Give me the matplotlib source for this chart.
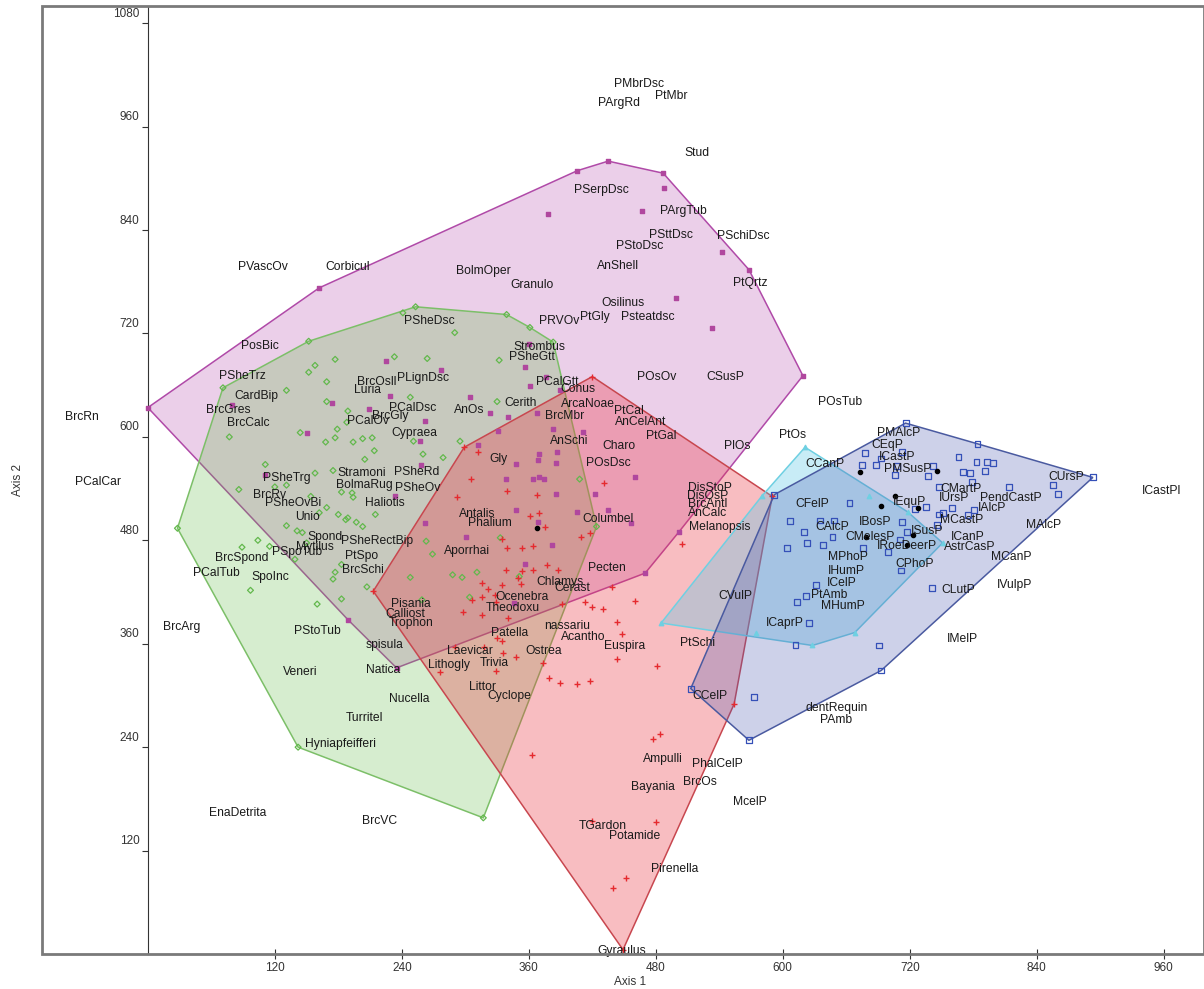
import matplotlib
matplotlib.use("Agg")
import matplotlib.pyplot as plt
from matplotlib.patches import Polygon, Rectangle
from matplotlib.transforms import ScaledTranslation

plt.rcParams['font.family'] = ['Liberation Sans', 'DejaVu Sans']

# ---------------- data (Axis 1, Axis 2) ----------------
magenta_x = [0, 80, 174, 150, 111, 189, 162, 378, 467, 406, 435, 487, 488, 543, 568, 499, 533, 619, 502, 470,
             235, 225, 277, 356, 360, 376, 361, 389, 229, 304, 323, 340, 368, 262, 209, 383, 411, 331, 257, 312,
             370, 387, 369, 348, 386, 258, 338, 364, 370, 374, 460, 386, 423, 234, 348, 369, 435, 457, 406, 262,
             301, 382, 356, 346]
magenta_y = [634, 637, 639, 605, 556, 388, 773, 859, 862, 909, 920, 906, 889, 814, 794, 761, 726, 671, 490, 442,
             332, 688, 678, 681, 708, 670, 659, 655, 647, 646, 628, 623, 628, 618, 632, 609, 606, 607, 595, 591,
             580, 582, 573, 569, 570, 567, 551, 551, 554, 551, 553, 534, 534, 531, 515, 501, 515, 500, 513, 500,
             484, 475, 453, 407]

green_x = [152, 71, 28, 142, 317, 424, 383, 361, 339, 253, 241, 177, 158, 152, 169, 131, 169, 77, 144, 179,
           177, 168, 188, 111, 158, 175, 86, 120, 131, 193, 154, 162, 169, 180, 187, 131, 141, 146, 150, 104,
           89, 115, 139, 183, 177, 175, 97, 160, 183, 290, 233, 264, 332, 248, 330, 189, 194, 203, 212, 214,
           205, 251, 260, 279, 295, 183, 194, 215, 189, 197, 203, 263, 269, 248, 288, 297, 311, 207, 259, 304,
           351, 333, 408]
green_y = [711, 657, 494, 240, 158, 496, 710, 727, 742, 751, 744, 690, 683, 675, 664, 654, 641, 600, 605, 609,
           599, 594, 617, 568, 558, 561, 539, 542, 544, 535, 531, 512, 518, 510, 504, 497, 491, 489, 477, 480,
           472, 473, 458, 452, 443, 435, 422, 406, 412, 721, 693, 691, 689, 646, 641, 630, 594, 598, 599, 584,
           574, 595, 580, 576, 595, 536, 530, 510, 506, 501, 496, 479, 464, 437, 440, 437, 443, 426, 411, 414,
           438, 483, 551]

red_x = [213, 299, 420, 590, 554, 449, 276, 305, 292, 339, 368, 431, 370, 361, 375, 335, 339, 354, 364, 418,
         409, 338, 354, 364, 377, 388, 316, 335, 350, 353, 321, 316, 328, 306, 329, 298, 316, 340, 312, 439,
         413, 420, 430, 460, 443, 448, 391, 330, 335, 329, 336, 348, 373, 379, 389, 406, 418, 443, 363, 420,
         440, 452, 481, 484, 477, 480, 505, 290, 318]
red_y = [421, 588, 670, 531, 290, 5, 327, 551, 530, 537, 533, 546, 512, 508, 496, 481, 471, 471, 473, 489,
         484, 445, 444, 446, 451, 446, 431, 428, 436, 429, 424, 414, 417, 411, 408, 397, 393, 390, 582, 426,
         408, 403, 400, 410, 385, 371, 406, 367, 363, 328, 349, 345, 338, 320, 315, 313, 317, 342, 231, 154,
         77, 88, 334, 255, 249, 153, 476, 356, 356]

blue_x = [716, 893, 592, 513, 568, 693, 784, 573, 691, 612, 678, 693, 675, 688, 713, 708, 742, 737, 706, 663,
          607, 635, 648, 620, 647, 623, 638, 604, 676, 699, 713, 717, 711, 725, 735, 748, 712, 741, 631, 622,
          613, 625, 766, 783, 793, 799, 770, 777, 791, 779, 748, 814, 855, 860, 781, 760, 775, 751, 746]
blue_y = [616, 553, 533, 308, 248, 329, 592, 298, 358, 359, 581, 575, 567, 567, 582, 566, 566, 555, 556, 523,
          502, 503, 503, 490, 484, 477, 475, 471, 471, 466, 501, 490, 481, 516, 519, 510, 445, 425, 428, 415,
          408, 384, 577, 571, 571, 570, 559, 558, 560, 548, 542, 542, 544, 534, 515, 517, 509, 512, 498]

cyan_x = [621, 485, 575, 628, 668, 751, 681, 718, 580]
cyan_y = [588, 384, 372, 358, 373, 477, 532, 513, 531]

black_x = [673, 746, 706, 693, 728, 679, 723, 717, 368]
black_y = [559, 560, 532, 520, 517, 484, 486, 475, 494]

label_names = ['PVascOv', 'Corbicul', 'PMbrDsc', 'PArgRd', 'PtMbr', 'Stud', 'PSerpDsc', 'PArgTub', 'PSttDsc',
               'PSchiDsc', 'PStoDsc', 'AnShell', 'BolmOper', 'Granulo', 'PtQrtz', 'Osilinus', 'Psteatdsc',
               'PtGly', 'PRVOv', 'PSheDsc', 'PosBic', 'Strombus', 'PSheGtt', 'PSheTrz', 'POsOv', 'CSusP',
               'BrcOsll', 'PLignDsc', 'PCalGtt', 'Luria', 'Conus', 'CardBip', 'POsTub', 'Cerith', 'ArcaNoae',
               'PCalDsc', 'AnOs', 'BrcGres', 'PtCal', 'BrcMbr', 'BrcGly', 'BrcRn', 'PCalOv', 'AnCelAnt',
               'BrcCalc', 'Cypraea', 'PtOs', 'PtGal', 'AnSchi', 'PlOs', 'Charo', 'PMAlcP', 'CEqP', 'ICastP',
               'Gly', 'POsDsc', 'CCanP', 'PMSusP', 'Stramoni', 'PSheRd', 'CUrsP', 'PSheTrg', 'PCalCar',
               'BolmaRug', 'PSheOv', 'DisStoP', 'CMartP', 'ICastPl', 'BrcRv', 'DisOsP', 'IUrsP', 'PendCastP',
               'IEquP', 'PSheOvBi', 'Haliotis', 'BrcAntl', 'CFelP', 'IAlcP', 'AnCalc', 'Antalis', 'Unio',
               'Columbel', 'MCastP', 'Phalium', 'IBosP', 'MAlcP', 'CAlcP', 'Melanopsis', 'ISusP', 'Spond',
               'CMelesP', 'ICanP', 'PSheRectBip', 'IRoeDeerP', 'Mytilus', 'AstrCasP', 'Aporrhai', 'PSpoTub',
               'PtSpo', 'MPhoP', 'MCanP', 'BrcSpond', 'CPhoP', 'Pecten', 'BrcSchi', 'IHumP', 'PCalTub',
               'SpoInc', 'Chlamys', 'ICelP', 'IVulpP', 'Cerast', 'CLutP', 'PtAmb', 'CVulP', 'Ocenebra',
               'Pisania', 'MHumP', 'Theodoxu', 'Calliost', 'Trophon', 'ICaprP', 'nassariu', 'BrcArg',
               'PStoTub', 'Patella', 'Acantho', 'IMelP', 'PtSchi', 'spisula', 'Euspira', 'Laevicar', 'Ostrea',
               'Trivia', 'Lithogly', 'Natica', 'Veneri', 'Littor', 'Cyclope', 'CCelP', 'Nucella', 'dentRequin',
               'Turritel', 'PAmb', 'Hyniapfeifferi', 'Ampulli', 'PhalCelP', 'BrcOs', 'Bayania', 'McelP',
               'EnaDetrita', 'BrcVC', 'TGardon', 'Potamide', 'Pirenella', 'Gyraulus']
label_x = [109, 189, 464, 445, 495, 519, 429, 506, 494, 563, 465, 444, 317, 363, 569, 449, 472, 422, 389, 266,
           106, 370, 363, 89, 481, 546, 216, 260, 387, 208, 406, 103, 654, 352, 416, 250, 304, 76, 455, 394,
           229, -62, 208, 466, 95, 252, 609, 485, 398, 557, 445, 709, 699, 708, 331, 435, 640, 718, 202, 254,
           868, 131, -47, 205, 255, 531, 768, 958, 115, 529, 762, 815, 720, 137, 224, 529, 628, 798, 529, 311,
           151, 435, 769, 323, 687, 846, 647, 540, 736, 167, 682, 775, 217, 717, 158, 777, 302, 141, 202, 662,
           816, 89, 725, 434, 203, 660, 65, 116, 389, 656, 819, 401, 766, 644, 555, 354, 249, 657, 345, 243,
           249, 602, 396, 32, 160, 342, 411, 770, 519, 224, 451, 304, 374, 327, 285, 222, 144, 316, 342, 531,
           247, 651, 205, 650, 182, 487, 538, 522, 477, 569, 85, 219, 430, 460, 498, 448]
label_y = [797, 797, 1009, 987, 995, 930, 887, 862, 834, 833, 822, 798, 792, 776, 779, 755, 739, 739, 734, 735,
           706, 704, 693, 671, 670, 670, 664, 668, 664, 654, 656, 647, 641, 639, 638, 634, 631, 631, 630, 624,
           624, 623, 618, 617, 616, 604, 602, 601, 595, 590, 589, 605, 591, 577, 574, 570, 568, 563, 558, 559,
           554, 552, 548, 544, 541, 541, 539, 537, 533, 531, 529, 529, 524, 523, 523, 522, 522, 517, 512, 510,
           507, 505, 504, 500, 501, 498, 496, 496, 491, 484, 484, 484, 479, 473, 472, 472, 468, 466, 462, 461,
           461, 460, 452, 448, 445, 444, 442, 437, 432, 430, 428, 425, 422, 416, 415, 414, 406, 404, 401, 395,
           384, 384, 381, 380, 375, 373, 368, 365, 361, 359, 357, 352, 352, 338, 335, 329, 327, 310, 299, 299,
           296, 285, 274, 272, 244, 226, 221, 200, 194, 176, 164, 154, 148, 137, 99, 3]

x_ticks = [120, 240, 360, 480, 600, 720, 840, 960]
y_ticks = [120, 240, 360, 480, 600, 720, 840, 960, 1080]


def convex_hull(xs, ys):
    pts = sorted(set(zip(xs, ys)))
    def cross(o, a, b):
        return (a[0] - o[0]) * (b[1] - o[1]) - (a[1] - o[1]) * (b[0] - o[0])
    lower, upper = [], []
    for p in pts:
        while len(lower) >= 2 and cross(lower[-2], lower[-1], p) <= 0:
            lower.pop()
        lower.append(p)
    for p in reversed(pts):
        while len(upper) >= 2 and cross(upper[-2], upper[-1], p) <= 0:
            upper.pop()
        upper.append(p)
    return lower[:-1] + upper[:-1]


fig = plt.figure(figsize=(12.04, 9.89), dpi=100)
ax = fig.add_axes([42 / 1204, 35 / 989, 1162 / 1204, 948 / 989])
ax.set_xlim(-100, 998)
ax.set_ylim(0, 1100)

groups = [
    dict(x=magenta_x, y=magenta_y, face=(0.69, 0.25, 0.66, 0.25), edge='#b04aa8', mk='s', mc='#b0479e',
         filled=True, s=9),
    dict(x=green_x, y=green_y, face=(0.36, 0.73, 0.25, 0.25), edge='#7cbf68', mk='D', mc='#62b84c',
         filled=False, s=9),
    dict(x=red_x, y=red_y, face=(0.92, 0.22, 0.27, 0.33), edge='#c8474f', mk='+', mc='#e52a2f',
         filled=True, s=16),
    dict(x=cyan_x, y=cyan_y, face=(0.35, 0.78, 0.9, 0.33), edge='#6fd0e2', mk='^', mc='#6fd0e2',
         filled=True, s=10),
    dict(x=blue_x, y=blue_y, face=(0.30, 0.36, 0.70, 0.28), edge='#4a5aa0', mk='s', mc='#3550b8',
         filled=False, s=18),
]

for g in groups:
    hull = convex_hull(g['x'], g['y'])
    ax.add_patch(Polygon(hull, closed=True, facecolor=g['face'], edgecolor=g['edge'], lw=1.1, zorder=1))

for g in groups:
    if g['filled']:
        ax.scatter(g['x'], g['y'], marker=g['mk'], s=g['s'], c=g['mc'], linewidths=1.0, zorder=3)
    else:
        ax.scatter(g['x'], g['y'], marker=g['mk'], s=g['s'], facecolors='none', edgecolors=g['mc'],
                   linewidths=0.9, zorder=3)
ax.scatter(black_x, black_y, marker='o', s=9, c='black', zorder=3)

for n, x, y in zip(label_names, label_x, label_y):
    ax.text(x, y, n, ha='center', va='center', fontsize=8.7, color='#1a1a1a', zorder=4)

# axes styling
ax.spines['left'].set_position(('data', 0))
ax.spines['left'].set_color('#333')
ax.spines['bottom'].set_color('#333')
ax.spines['top'].set_visible(False)
ax.spines['right'].set_visible(False)
ax.add_patch(Rectangle((0, 0), 1, 1, transform=ax.transAxes, fill=False, ec='#7a7a7a', lw=2.0,
                       clip_on=False, zorder=5))
ax.set_xticks(x_ticks)
ax.set_yticks(y_ticks)
ax.tick_params(axis='x', direction='inout', length=7, width=0.8, colors='#333', labelsize=8.5, pad=2)
ax.tick_params(axis='y', direction='out', length=4, width=0.8, colors='#333', labelsize=8.5, pad=2)
off = ScaledTranslation(0, 11 / 100, fig.dpi_scale_trans)
for lab in ax.get_yticklabels():
    lab.set_transform(lab.get_transform() + off)

fig.text(630 / 1204, 1 - 982 / 989, 'Axis 1', ha='center', va='center', fontsize=8.5, color='#333')
fig.text(18 / 1204, 1 - 480 / 989, 'Axis 2', ha='center', va='center', fontsize=8.5, color='#333',
         rotation=90)

fig.savefig('out.png', dpi=100)
